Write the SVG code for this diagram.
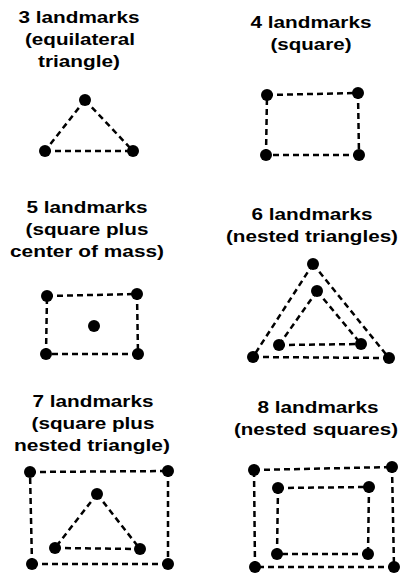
<svg xmlns="http://www.w3.org/2000/svg" width="409" height="574" viewBox="0 0 409 574">
<style>
  .t { font-family: "Liberation Sans", Arial, sans-serif; font-weight: bold; font-size: 16.5px; fill: #000; text-anchor: middle; }
  .e { stroke: #000; stroke-width: 2.5; stroke-dasharray: 6 4; fill: none; }
  .d { fill: #000; }
</style>
<rect width="409" height="574" fill="#fff"/>
<g id="connectors">
  <!-- panel 1 -->
  <line class="e" x1="85" y1="100" x2="45" y2="151"/>
  <line class="e" x1="85" y1="100" x2="133" y2="151"/>
  <line class="e" x1="45" y1="151" x2="133" y2="151"/>
  <!-- panel 2 -->
  <line class="e" x1="267" y1="95" x2="358" y2="93"/>
  <line class="e" x1="358" y1="93" x2="359" y2="155"/>
  <line class="e" x1="359" y1="155" x2="266" y2="155"/>
  <line class="e" x1="266" y1="155" x2="267" y2="95"/>
  <!-- panel 3 -->
  <line class="e" x1="47" y1="296" x2="137" y2="294"/>
  <line class="e" x1="137" y1="294" x2="138" y2="354"/>
  <line class="e" x1="138" y1="354" x2="46" y2="354"/>
  <line class="e" x1="46" y1="354" x2="47" y2="296"/>
  <!-- panel 4 -->
  <line class="e" x1="313" y1="264" x2="253" y2="357"/>
  <line class="e" x1="313" y1="264" x2="389" y2="358"/>
  <line class="e" x1="253" y1="357" x2="389" y2="358"/>
  <line class="e" x1="317" y1="291" x2="279" y2="345"/>
  <line class="e" x1="317" y1="291" x2="361" y2="344"/>
  <line class="e" x1="279" y1="345" x2="361" y2="344"/>
  <!-- panel 5 -->
  <line class="e" x1="30" y1="472" x2="168" y2="471"/>
  <line class="e" x1="168" y1="471" x2="168" y2="564"/>
  <line class="e" x1="168" y1="564" x2="32" y2="564"/>
  <line class="e" x1="32" y1="564" x2="30" y2="472"/>
  <line class="e" x1="97" y1="494" x2="55" y2="548"/>
  <line class="e" x1="97" y1="494" x2="140" y2="549"/>
  <line class="e" x1="55" y1="548" x2="140" y2="549"/>
  <!-- panel 6 -->
  <line class="e" x1="254" y1="470" x2="392" y2="467"/>
  <line class="e" x1="392" y1="467" x2="394" y2="567"/>
  <line class="e" x1="394" y1="567" x2="255" y2="567"/>
  <line class="e" x1="255" y1="567" x2="254" y2="470"/>
  <line class="e" x1="278" y1="488" x2="369" y2="487"/>
  <line class="e" x1="369" y1="487" x2="368" y2="554"/>
  <line class="e" x1="368" y1="554" x2="277" y2="554"/>
  <line class="e" x1="277" y1="554" x2="278" y2="488"/>
</g>
<g id="panel3landmarks">
  <text class="t" x="79" y="23" textLength="121" lengthAdjust="spacingAndGlyphs">3 landmarks</text>
  <text class="t" x="80" y="45" textLength="110" lengthAdjust="spacingAndGlyphs">(equilateral</text>
  <text class="t" x="79" y="67" textLength="82" lengthAdjust="spacingAndGlyphs">triangle)</text>
  <circle class="d" cx="85" cy="100" r="6"/>
  <circle class="d" cx="45" cy="151" r="6"/>
  <circle class="d" cx="133" cy="151" r="6"/>
</g>
<g id="panel4landmarks">
  <text class="t" x="311" y="28" textLength="121" lengthAdjust="spacingAndGlyphs">4 landmarks</text>
  <text class="t" x="311" y="50" textLength="81" lengthAdjust="spacingAndGlyphs">(square)</text>
  <circle class="d" cx="267" cy="95" r="6"/>
  <circle class="d" cx="358" cy="93" r="6"/>
  <circle class="d" cx="266" cy="155" r="6"/>
  <circle class="d" cx="359" cy="155" r="6"/>
</g>
<g id="panel5landmarks">
  <text class="t" x="87" y="213" textLength="121" lengthAdjust="spacingAndGlyphs">5 landmarks</text>
  <text class="t" x="87" y="235" textLength="123" lengthAdjust="spacingAndGlyphs">(square plus</text>
  <text class="t" x="87" y="257" textLength="154" lengthAdjust="spacingAndGlyphs">center of mass)</text>
  <circle class="d" cx="47" cy="296" r="6"/>
  <circle class="d" cx="137" cy="294" r="6"/>
  <circle class="d" cx="94" cy="326" r="6"/>
  <circle class="d" cx="46" cy="354" r="6"/>
  <circle class="d" cx="138" cy="354" r="6"/>
</g>
<g id="panel6landmarks">
  <text class="t" x="312" y="220" textLength="121" lengthAdjust="spacingAndGlyphs">6 landmarks</text>
  <text class="t" x="312" y="242" textLength="172" lengthAdjust="spacingAndGlyphs">(nested triangles)</text>
  <circle class="d" cx="313" cy="264" r="6"/>
  <circle class="d" cx="253" cy="357" r="6"/>
  <circle class="d" cx="389" cy="358" r="6"/>
  <circle class="d" cx="317" cy="291" r="6"/>
  <circle class="d" cx="279" cy="345" r="6"/>
  <circle class="d" cx="361" cy="344" r="6"/>
</g>
<g id="panel7landmarks">
  <text class="t" x="93" y="407" textLength="121" lengthAdjust="spacingAndGlyphs">7 landmarks</text>
  <text class="t" x="93" y="429" textLength="123" lengthAdjust="spacingAndGlyphs">(square plus</text>
  <text class="t" x="92" y="451" textLength="156" lengthAdjust="spacingAndGlyphs">nested triangle)</text>
  <circle class="d" cx="30" cy="472" r="6"/>
  <circle class="d" cx="168" cy="471" r="6"/>
  <circle class="d" cx="32" cy="564" r="6"/>
  <circle class="d" cx="168" cy="564" r="6"/>
  <circle class="d" cx="97" cy="494" r="6"/>
  <circle class="d" cx="55" cy="548" r="6"/>
  <circle class="d" cx="140" cy="549" r="6"/>
</g>
<g id="panel8landmarks">
  <text class="t" x="318" y="413" textLength="121" lengthAdjust="spacingAndGlyphs">8 landmarks</text>
  <text class="t" x="316" y="435" textLength="164" lengthAdjust="spacingAndGlyphs">(nested squares)</text>
  <circle class="d" cx="254" cy="470" r="6"/>
  <circle class="d" cx="392" cy="467" r="6"/>
  <circle class="d" cx="255" cy="567" r="6"/>
  <circle class="d" cx="394" cy="567" r="6"/>
  <circle class="d" cx="278" cy="488" r="6"/>
  <circle class="d" cx="369" cy="487" r="6"/>
  <circle class="d" cx="277" cy="554" r="6"/>
  <circle class="d" cx="368" cy="554" r="6"/>
</g>
</svg>
